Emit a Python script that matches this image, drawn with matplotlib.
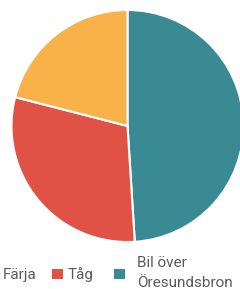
import matplotlib
matplotlib.use("Agg")
import matplotlib.pyplot as plt
from matplotlib.patches import Rectangle

categories = ["Bil över\nÖresundsbron", "Tåg", "Färja"]
values = [49, 30, 21]
colors = ["#3a8a94", "#e05146", "#f8b249"]

W, H = 240, 289
fig = plt.figure(figsize=(W / 100, H / 100), dpi=100)

cx, cy, r = 127.5, 126, 116
ax = fig.add_axes([(cx - r) / W, (H - cy - r) / H, 2 * r / W, 2 * r / H])
ax.pie(values, colors=colors, startangle=90, counterclock=False,
       wedgeprops=dict(edgecolor="white", linewidth=1.5))
ax.set_xlim(-1, 1)
ax.set_ylim(-1, 1)
ax.set_aspect("auto")
ax.axis("off")

# legend drawn manually (order: Färja, Tåg, Bil över Öresundsbron)
leg_order = [2, 1, 0]
sq_x = [-14, 52, 114]
txt_x = [3, 68, 137]
text_color = "#5a5a5a"
sq_top, sq_h = 268.5, 10.8
base_single = 279.5
base_multi = [267.2, 287.2]
for k, i in enumerate(leg_order):
    fig.patches.append(Rectangle((sq_x[k] / W, (H - sq_top - sq_h) / H), 11 / W, sq_h / H,
                                 transform=fig.transFigure, facecolor=colors[i],
                                 edgecolor="none"))
    lines = categories[i].split("\n")
    bases = [base_single] if len(lines) == 1 else base_multi
    for line, b in zip(lines, bases):
        fig.text(txt_x[k] / W, (H - b) / H, line, ha="left", va="baseline",
                 fontsize=11.0, color=text_color, family="Roboto")

fig.savefig("out.png", dpi=100)
